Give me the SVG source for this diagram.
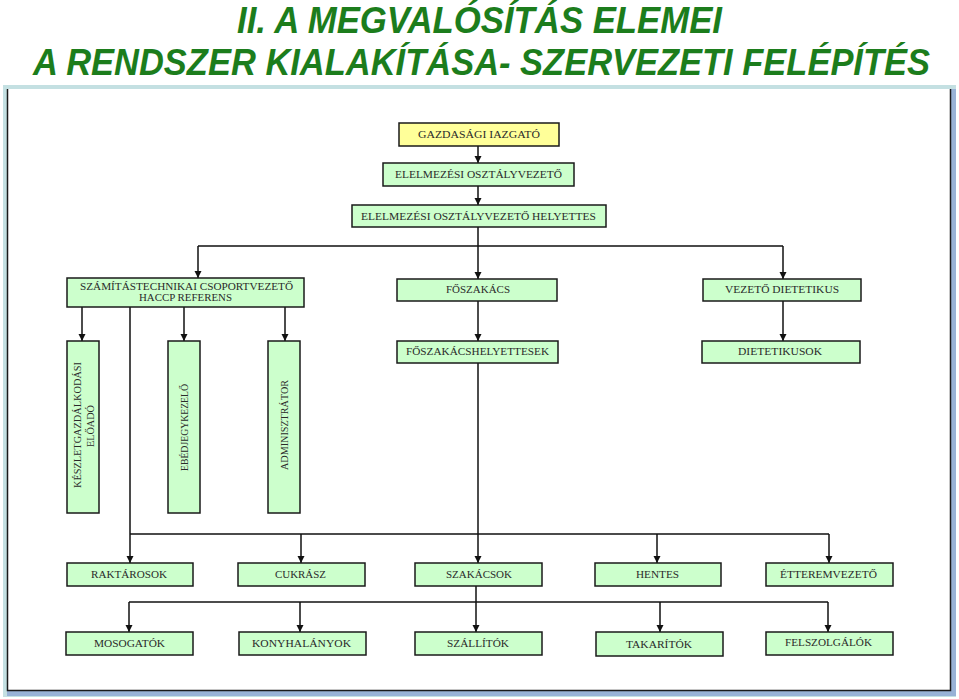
<svg xmlns="http://www.w3.org/2000/svg" width="959" height="699" viewBox="0 0 959 699">
<defs>
<marker id="ah" markerUnits="userSpaceOnUse" markerWidth="8" markerHeight="8" refX="7" refY="3.5" orient="auto">
<path d="M0,0 L7,3.5 L0,7 z" fill="#111"/>
</marker>
<style>
.title{font-family:"Liberation Sans",Arial,sans-serif;font-weight:bold;font-style:italic;font-size:37px;fill:#1c7d1c}
.box{fill:#ccffcc;stroke:#1a1a1a;stroke-width:1.5}
.ybox{fill:#ffff99;stroke:#1a1a1a;stroke-width:1.5}
.t{font-family:"Liberation Serif","Times New Roman",serif;font-size:10.5px;fill:#2a2a2a}
.c{fill:none;stroke:#111;stroke-width:1.5}
.a{marker-end:url(#ah)}
</style>
</defs>
<rect width="959" height="699" fill="#fff"/>
<text class="title" x="237" y="33" textLength="485" lengthAdjust="spacingAndGlyphs">II. A MEGVALÓSÍTÁS ELEMEI</text>
<text class="title" x="33" y="75" textLength="897" lengthAdjust="spacingAndGlyphs">A RENDSZER KIALAKÍTÁSA- SZERVEZETI FELÉPÍTÉS</text>
<g id="frame">
<rect x="3" y="85" width="953" height="612" fill="#c4e0e2"/>
<rect x="951" y="89" width="5" height="607" fill="#98b2d6"/>
<rect x="7" y="691" width="949" height="5" fill="#98b2d6"/>
<rect x="7" y="89" width="944" height="602" fill="#fff"/>
<path d="M7.5,89 V690.5 H950.5 V89" fill="none" stroke="#1a1a1a" stroke-width="1.5"/>
</g>
<g id="connectors">
<path class="c a" d="M478,146 V163"/>
<path class="c a" d="M478,186 V205"/>
<path class="c" d="M478,227 V246 M198,246 H783"/>
<path class="c a" d="M198,246 V278"/>
<path class="c a" d="M478,246 V279"/>
<path class="c a" d="M783,246 V279"/>
<path class="c a" d="M478,301 V341"/>
<path class="c a" d="M783,301 V341"/>
<path class="c a" d="M82,307 V341"/>
<path class="c a" d="M184,307 V341"/>
<path class="c a" d="M285,307 V341"/>
<path class="c" d="M130,307 V534 M130,534 H829"/>
<path class="c a" d="M478,363 V563"/>
<path class="c a" d="M130,534 V563"/>
<path class="c a" d="M301,534 V563"/>
<path class="c a" d="M657,534 V563"/>
<path class="c a" d="M829,534 V563"/>
<path class="c a" d="M476,586 V632"/>
<path class="c" d="M129,602 H828"/>
<path class="c a" d="M129,602 V632"/>
<path class="c a" d="M300,602 V632"/>
<path class="c a" d="M660,602 V632"/>
<path class="c a" d="M828,602 V632"/>
</g>
<g id="n1"><rect class="ybox" x="399" y="123" width="160" height="23"/><text class="t" x="418" y="138" textLength="122" lengthAdjust="spacingAndGlyphs">GAZDASÁGI IAZGATÓ</text></g>
<g id="n2"><rect class="box" x="383" y="163" width="191" height="23"/><text class="t" x="395" y="178" textLength="167" lengthAdjust="spacingAndGlyphs">ELELMEZÉSI OSZTÁLYVEZETŐ</text></g>
<g id="n3"><rect class="box" x="352" y="205" width="254" height="22"/><text class="t" x="361" y="220" textLength="235" lengthAdjust="spacingAndGlyphs">ELELMEZÉSI OSZTÁLYVEZETŐ HELYETTES</text></g>
<g id="n4"><rect class="box" x="67" y="278" width="237" height="29"/><text class="t" x="80" y="290" textLength="213" lengthAdjust="spacingAndGlyphs">SZÁMÍTÁSTECHNIKAI CSOPORTVEZETŐ</text><text class="t" x="139" y="301" textLength="93" lengthAdjust="spacingAndGlyphs">HACCP REFERENS</text></g>
<g id="n5"><rect class="box" x="397" y="279" width="160" height="22"/><text class="t" x="446" y="293" textLength="64" lengthAdjust="spacingAndGlyphs">FŐSZAKÁCS</text></g>
<g id="n6"><rect class="box" x="703" y="279" width="158" height="22"/><text class="t" x="725" y="293" textLength="114" lengthAdjust="spacingAndGlyphs">VEZETŐ DIETETIKUS</text></g>
<g id="n7"><rect class="box" x="397" y="341" width="161" height="22"/><text class="t" x="406" y="355" textLength="143" lengthAdjust="spacingAndGlyphs">FŐSZAKÁCSHELYETTESEK</text></g>
<g id="n8"><rect class="box" x="702" y="341" width="158" height="22"/><text class="t" x="738" y="355" textLength="84" lengthAdjust="spacingAndGlyphs">DIETETIKUSOK</text></g>
<g id="n9"><rect class="box" x="67" y="341" width="32" height="172"/><text class="t" transform="translate(81,488) rotate(-90)" x="0" y="0" textLength="126" lengthAdjust="spacingAndGlyphs">KÉSZLETGAZDÁLKODÁSI</text><text class="t" transform="translate(94,447) rotate(-90)" x="0" y="0" textLength="42" lengthAdjust="spacingAndGlyphs">ELŐADÓ</text></g>
<g id="n10"><rect class="box" x="168" y="341" width="32" height="172"/><text class="t" transform="translate(188,471) rotate(-90)" x="0" y="0" textLength="87" lengthAdjust="spacingAndGlyphs">EBÉDJEGYKEZELŐ</text></g>
<g id="n11"><rect class="box" x="268" y="341" width="32" height="172"/><text class="t" transform="translate(288,470) rotate(-90)" x="0" y="0" textLength="90" lengthAdjust="spacingAndGlyphs">ADMINISZTRÁTOR</text></g>
<g id="n12"><rect class="box" x="67" y="563" width="126" height="23"/><text class="t" x="91" y="578" textLength="76" lengthAdjust="spacingAndGlyphs">RAKTÁROSOK</text></g>
<g id="n13"><rect class="box" x="238" y="563" width="127" height="23"/><text class="t" x="275" y="578" textLength="51" lengthAdjust="spacingAndGlyphs">CUKRÁSZ</text></g>
<g id="n14"><rect class="box" x="415" y="563" width="127" height="23"/><text class="t" x="446" y="578" textLength="66" lengthAdjust="spacingAndGlyphs">SZAKÁCSOK</text></g>
<g id="n15"><rect class="box" x="595" y="563" width="126" height="23"/><text class="t" x="636" y="578" textLength="43" lengthAdjust="spacingAndGlyphs">HENTES</text></g>
<g id="n16"><rect class="box" x="766" y="563" width="127" height="23"/><text class="t" x="780" y="578" textLength="97" lengthAdjust="spacingAndGlyphs">ÉTTEREMVEZETŐ</text></g>
<g id="n17"><rect class="box" x="66" y="632" width="127" height="23"/><text class="t" x="94" y="647" textLength="71" lengthAdjust="spacingAndGlyphs">MOSOGATÓK</text></g>
<g id="n18"><rect class="box" x="239" y="632" width="127" height="23"/><text class="t" x="252" y="647" textLength="99" lengthAdjust="spacingAndGlyphs">KONYHALÁNYOK</text></g>
<g id="n19"><rect class="box" x="415" y="632" width="127" height="23"/><text class="t" x="447" y="647" textLength="62" lengthAdjust="spacingAndGlyphs">SZÁLLÍTÓK</text></g>
<g id="n20"><rect class="box" x="596" y="632" width="127" height="24"/><text class="t" x="626" y="648" textLength="66" lengthAdjust="spacingAndGlyphs">TAKARÍTÓK</text></g>
<g id="n21"><rect class="box" x="766" y="632" width="127" height="23"/><text class="t" x="785" y="646" textLength="87" lengthAdjust="spacingAndGlyphs">FELSZOLGÁLÓK</text></g>
</svg>
